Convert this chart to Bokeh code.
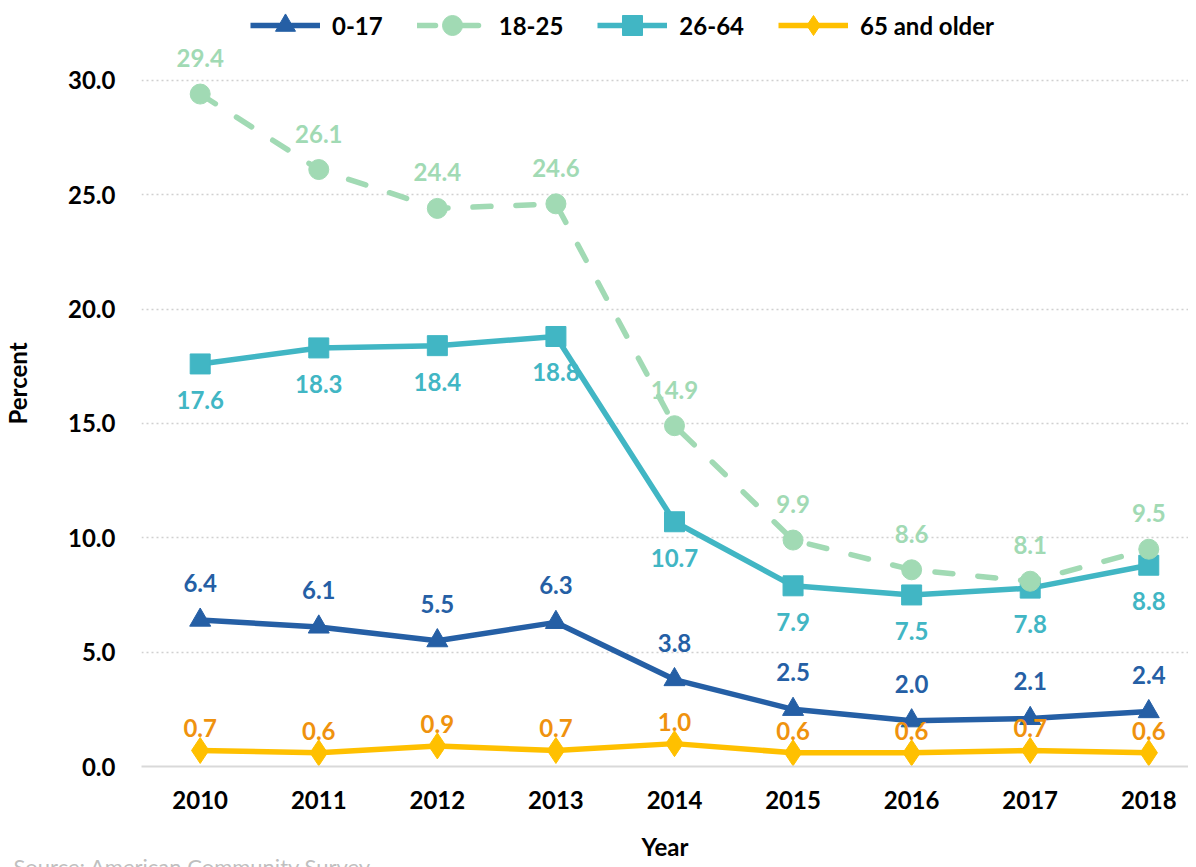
from bokeh.plotting import figure
from bokeh.models import Range1d, FixedTicker, Legend, LegendItem, Title, ColumnDataSource
from bokeh.core.properties import value
from bokeh.embed import file_html
from bokeh.resources import INLINE

years = ["2010", "2011", "2012", "2013", "2014", "2015", "2016", "2017", "2018"]
age_0_17 = [6.4, 6.1, 5.5, 6.3, 3.8, 2.5, 2.0, 2.1, 2.4]
age_18_25 = [29.4, 26.1, 24.4, 24.6, 14.9, 9.9, 8.6, 8.1, 9.5]
age_26_64 = [17.6, 18.3, 18.4, 18.8, 10.7, 7.9, 7.5, 7.8, 8.8]
age_65_up = [0.7, 0.6, 0.9, 0.7, 1.0, 0.6, 0.6, 0.7, 0.6]
series_names = ["0-17", "18-25", "26-64", "65 and older"]
y_ticks = [0, 5, 10, 15, 20, 25, 30]
source_text = "Source: American Community Survey"

FONT = "Lato"
xs = list(range(len(years)))

p = figure(width=1188, height=867, output_backend="svg", toolbar_location=None,
           x_range=Range1d(-0.495, 8.335), y_range=Range1d(0, 33.49),
           min_border_left=135, min_border_right=0, min_border_top=0, min_border_bottom=99)
p.outline_line_color = None
p.background_fill_color = "white"
p.border_fill_color = "white"

# axes
p.xaxis.ticker = FixedTicker(ticks=xs)
p.xaxis.major_label_overrides = {i: y for i, y in enumerate(years)}
p.yaxis.ticker = FixedTicker(ticks=y_ticks)
p.yaxis.major_label_overrides = {t: f"{t:.1f}" for t in y_ticks}
for ax in (p.xaxis[0], p.yaxis[0]):
    ax.major_tick_line_color = None
    ax.minor_tick_line_color = None
    ax.major_label_text_font = FONT
    ax.major_label_text_font_style = "bold"
    ax.major_label_text_font_size = "24px"
    ax.major_label_text_color = "black"
    ax.axis_label_text_font = FONT
    ax.axis_label_text_font_style = "bold"
    ax.axis_label_text_font_size = "24px"
    ax.axis_label_text_color = "black"
p.xaxis.axis_line_color = "#D9D9D9"
p.xaxis.axis_line_width = 2
p.yaxis.axis_line_color = None
p.xaxis.major_label_standoff = 18
p.yaxis.major_label_standoff = 20
p.xaxis.axis_label = "Year"
p.yaxis.axis_label = "Percent"
p.xaxis.axis_label_standoff = 20
p.yaxis.axis_label_standoff = 33

p.xgrid.grid_line_color = None
p.ygrid.grid_line_color = "#D0D0D0"
p.ygrid.grid_line_dash = "2 3"
p.ygrid.grid_line_width = 1.5

c_blue = "#255FA5"
c_green = "#A1DAB4"
c_teal = "#41B6C4"
c_yellow = "#FFC000"
c_orange = "#EF920E"

# 65 and older
r1 = p.line(xs, age_65_up, line_color=c_yellow, line_width=5.5)
m1 = p.scatter(xs, age_65_up, marker="diamond", size=26, fill_color=c_yellow, line_color=c_yellow)
# 26-64
r2 = p.line(xs, age_26_64, line_color=c_teal, line_width=5.5)
m2 = p.scatter(xs, age_26_64, marker="square", size=20, fill_color=c_teal, line_color=c_teal)
# 18-25
r3 = p.line(xs, age_18_25, line_color=c_green, line_width=5.5, line_dash="18 25", line_cap="round")
m3 = p.scatter(xs, age_18_25, marker="circle", size=20, fill_color=c_green, line_color=c_green)
# 0-17
r4 = p.line(xs, age_0_17, line_color=c_blue, line_width=5.5)
m4 = p.scatter(xs, age_0_17, marker="triangle", size=21, fill_color=c_blue, line_color=c_blue)

def labels(vals, color, offset):
    src = ColumnDataSource(dict(x=xs, y=vals, t=[f"{v:.1f}" for v in vals]))
    p.text(x="x", y="y", text="t", source=src, text_font=value(FONT), text_font_style="bold",
           text_font_size="24px", text_color=color, text_align="center",
           text_baseline="middle", y_offset=offset)

labels(age_0_17, c_blue, -37)
labels(age_18_25, c_green, -36)
labels(age_26_64, c_teal, 36)
labels(age_65_up, c_orange, -22)

legend = Legend(items=[
    LegendItem(label=series_names[0], renderers=[r4, m4]),
    LegendItem(label=series_names[1], renderers=[r3, m3]),
    LegendItem(label=series_names[2], renderers=[r2, m2]),
    LegendItem(label=series_names[3], renderers=[r1, m1]),
], orientation="horizontal", location=(109, 716))
legend.background_fill_alpha = 0
legend.border_line_color = None
legend.padding = 0
legend.margin = 0
legend.glyph_width = 70
legend.glyph_height = 50
legend.label_standoff = 12
legend.spacing = 34
legend.label_text_font = FONT
legend.label_text_font_style = "bold"
legend.label_text_font_size = "24px"
legend.label_text_color = "black"
p.add_layout(legend, "center")

src_title = Title(text=source_text, align="left", offset=-128, standoff=-25,
                  text_font=FONT, text_font_style="normal", text_font_size="22px",
                  text_color="#BFBFBF")
p.add_layout(src_title, "below")

open("out.html", "w").write(file_html(p, INLINE))
